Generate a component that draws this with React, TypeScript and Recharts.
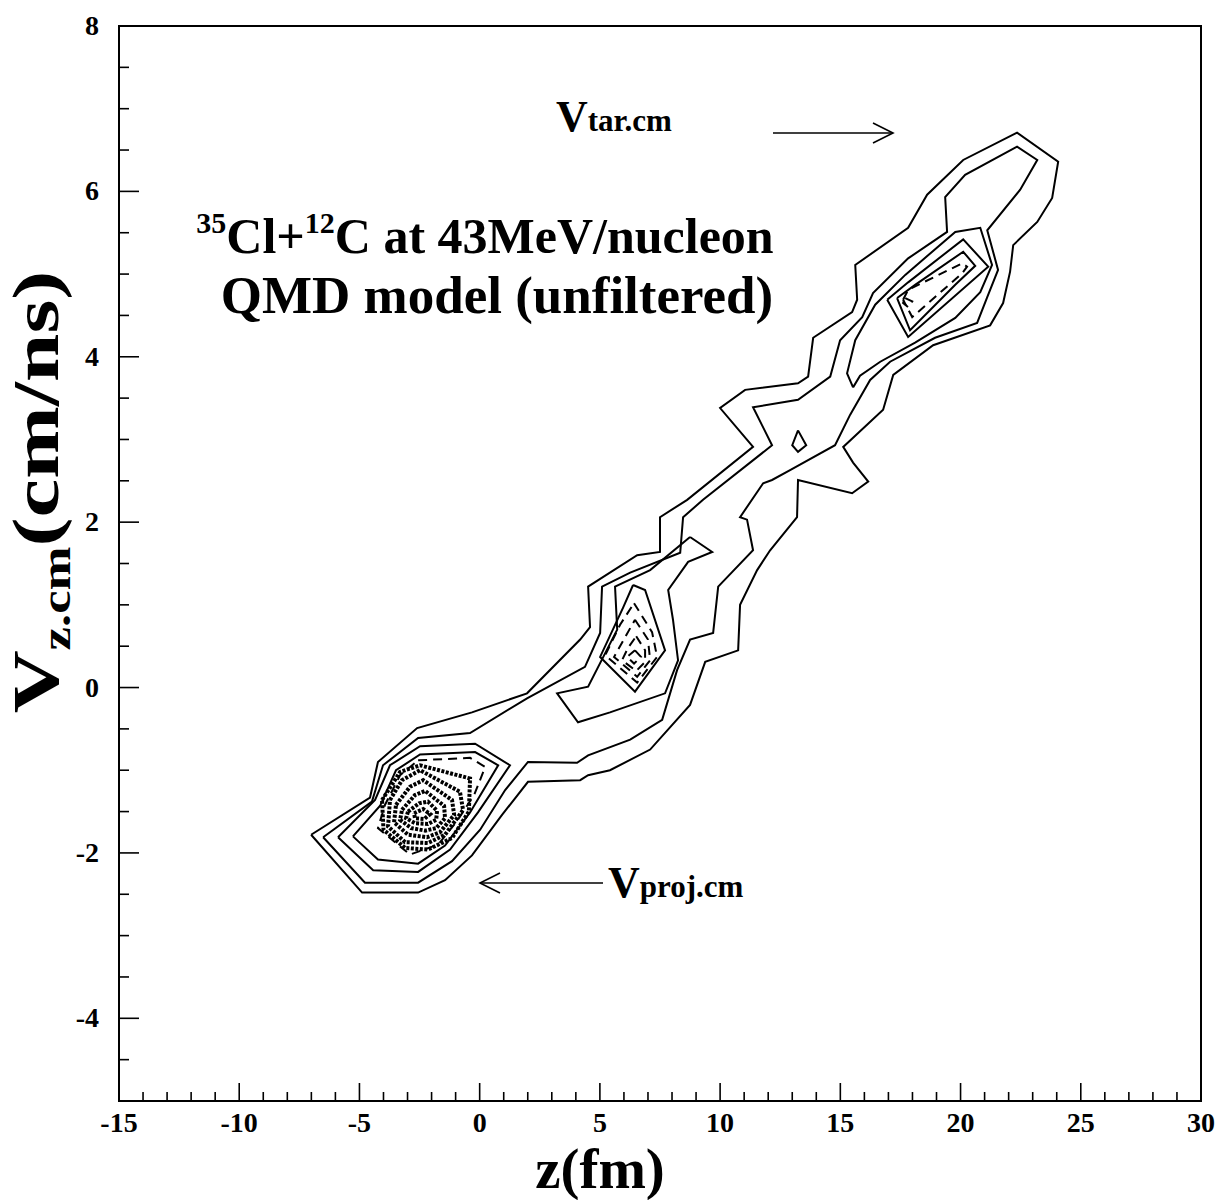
import React from 'react'
import { LineChart, Line, XAxis, YAxis, ReferenceArea } from 'recharts'

type Pt = [number, number]

// contour polygons, [z (fm), Vz (cm/ns)], closed when drawn
const outerLevel: Pt[] = [
  [-7.01, -1.78], [-4.56, -1.33], [-4.23, -0.9], [-2.6, -0.49], [-0.32, -0.3], [1.97, -0.07],
  [4.18, 0.58], [4.59, 0.73], [4.51, 1.22], [6.55, 1.6], [7.5, 1.64], [7.5, 2.06], [8.63, 2.27],
  [11.37, 2.91], [10.0, 3.38], [11.04, 3.6], [13.24, 3.68], [13.66, 3.76], [13.87, 4.23],
  [15.49, 4.54], [15.7, 4.69], [15.62, 5.11], [17.82, 5.56], [18.61, 5.96], [20.11, 6.38],
  [22.35, 6.71], [24.06, 6.36], [23.81, 5.92], [23.19, 5.63], [22.19, 5.35], [22.06, 5.03],
  [21.77, 4.65], [21.23, 4.38], [18.86, 4.14], [17.2, 3.78], [16.78, 3.36], [15.12, 2.91],
  [15.53, 2.72], [16.16, 2.49], [15.49, 2.35], [13.24, 2.51], [13.2, 2.06], [12.08, 1.66],
  [11.54, 1.42], [10.83, 1.0], [10.75, 0.45], [9.38, 0.31], [8.75, -0.21], [7.09, -0.75],
  [5.42, -1.0], [4.51, -1.06], [4.18, -1.12], [2.01, -1.14], [0.93, -1.54], [-0.32, -2.03],
  [-1.44, -2.33], [-2.56, -2.48], [-4.89, -2.48],
]

const secondLevel: Pt[] = [
  [-6.51, -1.81], [-4.48, -1.38], [-4.02, -0.94], [-2.56, -0.61], [-0.4, -0.55], [1.97, -0.13],
  [4.38, 0.25], [5.01, 0.66], [5.09, 1.22], [6.26, 1.39], [8.34, 1.63], [8.46, 2.06], [9.29, 2.27],
  [12.16, 2.93], [11.37, 3.39], [13.24, 3.48], [14.58, 3.76], [14.99, 4.2], [15.91, 4.48],
  [16.36, 4.77], [17.82, 5.19], [19.44, 5.51], [19.36, 5.93], [20.19, 6.2], [22.35, 6.54],
  [23.19, 6.38], [22.48, 6.02], [21.11, 5.53], [21.56, 5.05], [21.11, 4.72], [20.69, 4.41],
  [18.94, 4.23], [17.07, 3.94], [16.24, 3.72], [15.41, 3.3], [14.78, 2.93], [12.91, 2.63],
  [12.16, 2.51], [11.79, 2.47], [10.83, 2.06], [11.12, 2.03], [11.37, 1.66], [9.92, 1.22],
  [9.71, 0.66], [8.75, 0.58], [8.21, 0.21], [7.59, -0.39], [6.26, -0.63], [4.51, -0.82],
  [4.05, -0.91], [2.01, -0.9], [1.06, -1.24], [0.02, -1.72], [-1.15, -2.1], [-2.56, -2.36],
  [-4.77, -2.36],
]

// projectile-like peak (lower left)
const projLoop1: Pt[] = [
  [-5.89, -1.81], [-4.43, -2.21], [-2.56, -2.23], [-1.23, -1.96], [-0.07, -1.51], [1.26, -0.94],
  [-0.19, -0.68], [-2.48, -0.71], [-3.73, -0.94], [-4.35, -1.36],
]
const projLoop2: Pt[] = [
  [-5.27, -1.8], [-4.23, -2.08], [-2.56, -2.13], [-1.44, -1.91], [-0.4, -1.51], [0.77, -0.94],
  [-0.19, -0.78], [-2.48, -0.81], [-3.48, -1.0], [-4.14, -1.43],
]
const projOuterDash: Pt[] = [
  [-2.56, -0.88], [-0.4, -0.85], [0.23, -0.96], [-0.23, -1.3], [-0.98, -1.63], [-1.73, -1.9],
  [-2.9, -2.02], [-4.23, -1.7], [-3.94, -1.42], [-3.31, -1.06],
]
// densely packed levels near the projectile peak
const projCore: Pt[][] = [
  [[-4.06, -1.36], [-3.31, -1.02], [-2.48, -0.94], [-0.4, -1.1], [-0.45, -1.5], [-1.15, -1.82],
   [-2.15, -1.96], [-3.1, -1.94], [-4.0, -1.72]],
  [[-3.73, -1.36], [-3.23, -1.12], [-2.48, -1.0], [-0.82, -1.26], [-0.69, -1.48], [-1.44, -1.78],
   [-2.15, -1.88], [-3.1, -1.87], [-3.81, -1.68]],
  [[-3.48, -1.42], [-2.9, -1.2], [-2.35, -1.12], [-1.15, -1.36], [-1.06, -1.54], [-1.65, -1.75],
   [-2.19, -1.81], [-2.98, -1.78], [-3.56, -1.63]],
  [[-3.23, -1.48], [-2.69, -1.3], [-2.27, -1.25], [-1.48, -1.43], [-1.44, -1.58], [-1.81, -1.7],
   [-2.27, -1.73], [-2.85, -1.7], [-3.31, -1.6]],
  [[-2.98, -1.5], [-2.52, -1.4], [-2.15, -1.38], [-1.77, -1.49], [-1.81, -1.6], [-2.15, -1.65],
   [-2.69, -1.64], [-3.06, -1.58]],
  [[-2.73, -1.52], [-2.35, -1.47], [-2.06, -1.53], [-2.31, -1.59], [-2.69, -1.58]],
]

// mid-rapidity peak
const midLoop1: Pt[] = [
  [8.75, 1.82], [9.67, 1.64], [8.67, 1.52], [7.84, 1.18], [8.04, 0.82], [8.25, 0.33], [7.71, -0.07],
  [5.42, -0.3], [4.09, -0.42], [3.22, -0.07], [4.51, 0.01], [5.72, 0.7], [5.63, 1.22], [7.09, 1.42],
]
const midLoop2: Pt[] = [
  [6.38, 1.24], [6.88, 1.18], [7.71, 0.45], [6.46, -0.05], [5.01, 0.37], [5.97, 0.97],
]
const midDash: Pt[][] = [
  [[6.42, 1.02], [7.17, 0.67], [7.38, 0.37], [6.55, 0.06], [5.22, 0.39], [5.84, 0.76]],
  [[6.46, 0.82], [7.0, 0.58], [7.09, 0.33], [6.55, 0.13], [5.59, 0.37], [6.05, 0.61]],
  [[6.51, 0.62], [6.88, 0.45], [6.88, 0.31], [6.51, 0.2], [5.92, 0.33], [6.17, 0.48]],
  [[6.46, 0.45], [6.71, 0.37], [6.42, 0.29], [6.13, 0.37]],
]

// target-like peak (upper right)
const tarLoop1: Pt[] = [
  [15.53, 3.63], [15.28, 3.8], [15.62, 4.2], [16.45, 4.63], [17.7, 4.99], [19.78, 5.51],
  [20.82, 5.56], [21.31, 5.11], [20.82, 4.78], [19.78, 4.47], [18.11, 4.17], [16.66, 3.94],
  [15.82, 3.77],
]
const tarLoop2: Pt[] = [[16.95, 4.69], [17.82, 4.9], [20.11, 5.42], [21.15, 5.09], [17.82, 4.24]]
const tarLoop3: Pt[] = [[17.36, 4.71], [18.11, 4.87], [20.11, 5.27], [20.61, 5.1], [19.78, 4.87], [17.9, 4.32]]
const tarDash: Pt[][] = [
  [[17.61, 4.69], [17.82, 4.81], [20.07, 5.13], [20.27, 5.09], [20.07, 5.01], [17.99, 4.48]],
  [[17.7, 4.71], [17.99, 4.67], [17.82, 4.6], [17.61, 4.65]],
]

const islet: Pt[] = [[13.24, 3.11], [13.58, 2.93], [13.24, 2.85], [13.0, 2.93]]

const solidLevels: Pt[][] = [
  outerLevel, secondLevel, projLoop1, projLoop2, midLoop1, midLoop2, tarLoop1, tarLoop2, tarLoop3, islet,
]
const dashedLevels: Pt[][] = [projOuterDash, ...midDash, ...tarDash]

const zTicks = Array.from({ length: 46 }, (_, i) => i - 15)
const vTicks = Array.from({ length: 27 }, (_, i) => i * 0.5 - 5)

const FONT = '"Liberation Serif", "Times New Roman", serif'

function closed(pts: Pt[]) {
  return [...pts, pts[0]].map(([x, y]) => ({ x, y }))
}

function ZTick({ x, y, payload }: any) {
  const v = payload.value
  const major = v % 5 === 0
  return (
    <g>
      <line x1={x} y1={y} x2={x} y2={y - (major ? 18 : 9)} stroke="#000" strokeWidth={1.6} />
      {major && (
        <text x={x} y={y + 31} textAnchor="middle" fontFamily={FONT} fontWeight="bold" fontSize={28} fill="#000">
          {v}
        </text>
      )}
    </g>
  )
}

function VTick({ x, y, payload }: any) {
  const v = payload.value
  const major = v % 2 === 0
  return (
    <g>
      <line x1={x} y1={y} x2={x + (major ? 20 : 10)} y2={y} stroke="#000" strokeWidth={1.6} />
      {major && v > -5 && (
        <text x={x - 20} y={y + 9} textAnchor="end" fontFamily={FONT} fontWeight="bold" fontSize={28} fill="#000">
          {v}
        </text>
      )}
    </g>
  )
}

export default function App() {
  return (
    <div style={{ position: 'absolute', left: 0, top: 0, width: 1221, height: 1200, background: '#fff' }}>
      <LineChart width={1221} height={1200} margin={{ top: 26, right: 20, left: 59, bottom: 39 }}>
        <XAxis
          type="number" dataKey="x" domain={[-15, 30]} ticks={zTicks} interval={0}
          tickSize={0} tickMargin={0} tick={<ZTick />} height={60} allowDataOverflow
          axisLine={{ stroke: '#000', strokeWidth: 2 }} tickLine={false}
        />
        <YAxis
          type="number" dataKey="y" domain={[-5, 8]} ticks={vTicks} interval={0}
          tickSize={0} tickMargin={0} tick={<VTick />} width={60} allowDataOverflow
          axisLine={{ stroke: '#000', strokeWidth: 2 }} tickLine={false}
        />
        <ReferenceArea x1={-15} x2={30} y1={-5} y2={8} fill="none" stroke="#000" strokeWidth={2} ifOverflow="visible" />
        {solidLevels.map((pts, i) => (
          <Line key={'s' + i} data={closed(pts)} dataKey="y" type="linear" stroke="#000" strokeWidth={2}
            dot={false} isAnimationActive={false} />
        ))}
        {dashedLevels.map((pts, i) => (
          <Line key={'d' + i} data={closed(pts)} dataKey="y" type="linear" stroke="#000" strokeWidth={2}
            strokeDasharray="9 6" dot={false} isAnimationActive={false} />
        ))}
        {projCore.map((pts, i) => (
          <Line key={'p' + i} data={closed(pts)} dataKey="y" type="linear" stroke="#000"
            strokeWidth={4} strokeDasharray="3 1.5" dot={false} isAnimationActive={false} />
        ))}
      </LineChart>

      <svg width={1221} height={1200} style={{ position: 'absolute', left: 0, top: 0, pointerEvents: 'none' }}
        fontFamily={FONT} fontWeight="bold" fill="#000">
        <text x={485} y={253} textAnchor="middle" fontSize={50}>
          <tspan fontSize={30} dy={-20}>35</tspan>
          <tspan dy={20}>Cl+</tspan>
          <tspan fontSize={30} dy={-20}>12</tspan>
          <tspan dy={20}>C at 43MeV/nucleon</tspan>
        </text>
        <text x={497} y={313} textAnchor="middle" fontSize={53}>QMD model (unfiltered)</text>

        <text x={556} y={131}>
          <tspan fontSize={44}>V</tspan>
          <tspan fontSize={31}>tar.cm</tspan>
        </text>
        <line x1={773} y1={133} x2={893} y2={133} stroke="#000" strokeWidth={1.6} />
        <polyline points="873,123 893,133 873,143" fill="none" stroke="#000" strokeWidth={1.6} />

        <text x={608} y={897}>
          <tspan fontSize={44}>V</tspan>
          <tspan fontSize={31}>proj.cm</tspan>
        </text>
        <line x1={480} y1={883} x2={603} y2={883} stroke="#000" strokeWidth={1.6} />
        <polyline points="500,873 480,883 500,893" fill="none" stroke="#000" strokeWidth={1.6} />

        <text x={600} y={1188} textAnchor="middle" fontSize={57}>z(fm)</text>
        <text transform="translate(58,492) rotate(-90) scale(1.32,1)" textAnchor="middle" fontSize={66}>
          <tspan>V</tspan>
          <tspan fontSize={40} dy={12}>z.cm</tspan>
          <tspan dy={-12}>(cm/ns)</tspan>
        </text>
      </svg>
    </div>
  )
}
